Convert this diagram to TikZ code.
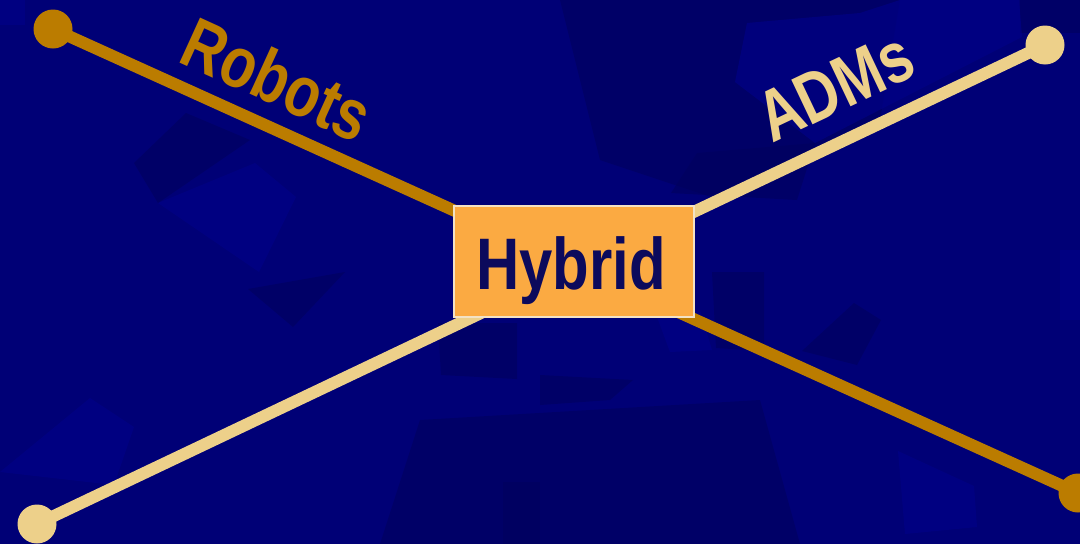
\documentclass[tikz,border=0pt]{standalone}
\usepackage{fontspec}
\setmainfont{Liberation Sans}
\newfontfamily\narrowfont[FakeStretch=0.82]{Liberation Sans}
\newfontfamily\armfont[FakeStretch=0.8]{Liberation Sans}
\definecolor{bgblue}{HTML}{000076}
\definecolor{patchdark}{HTML}{00005E}
\definecolor{patchlight}{HTML}{000086}
\definecolor{robotsgold}{HTML}{BB7C00}
\definecolor{admscream}{HTML}{EDD08A}
\definecolor{hybridfill}{HTML}{FBAA42}
\definecolor{hybridedge}{HTML}{F3E2C4}
\definecolor{hybridtext}{HTML}{0C0A5C}
\tikzset{
  darkpatch/.style={fill=patchdark, draw=none, opacity=0.6},
  lightpatch/.style={fill=patchlight, draw=none, opacity=0.7},
  arm/.style={line width=12pt, line cap=butt},
  dot/.style={circle, inner sep=0pt, minimum size=39pt, draw=none},
  armlabel/.style={font=\armfont\bfseries\fontsize{72}{80}\selectfont, inner sep=0pt, anchor=base west},
  hubbox/.style={draw=hybridedge, line width=2pt, fill=hybridfill, inner sep=0pt,
                 minimum width=240pt, minimum height=111pt},
  hubtext/.style={font=\narrowfont\bfseries\fontsize{73}{80}\selectfont, inner sep=0pt,
                  anchor=base, text=hybridtext}
}
\begin{document}
\begin{tikzpicture}[x=1pt, y=-1pt]
  \useasboundingbox (0,0) rectangle (1080,544);
  % background and faint tiles
  \fill[bgblue] (0,0) rectangle (1080,544);
  \fill[darkpatch] (560,0) -- (900,0) -- (880,120) -- (720,200) -- (600,160) -- cycle;
  \fill[darkpatch] (420,420) -- (760,400) -- (800,544) -- (380,544) -- cycle;
  \fill[lightpatch] (0,0) rectangle (25,25);
  \fill[darkpatch] (1020,0) rectangle (1080,33);
  \fill[lightpatch] (747,23) -- (860,13) -- (900,0) -- (1019,0) -- (1022,37) -- (815,143) -- (735,82) -- cycle;
  \fill[darkpatch] (671,193) -- (697,153) -- (815,143) -- (797,200) -- cycle;
  \fill[lightpatch] (158,203) -- (255,163) -- (296,197) -- (259,272) -- cycle;
  \fill[darkpatch] (134,163) -- (186,113) -- (250,140) -- (158,203) -- cycle;
  \fill[darkpatch] (248,289) -- (345,272) -- (293,327) -- cycle;
  \fill[lightpatch] (0,472) -- (90,398) -- (134,427) -- (114,485) -- cycle;
  \fill[darkpatch] (438,323) -- (517,323) -- (517,379) -- (441,375) -- cycle;
  \fill[darkpatch] (503,482) rectangle (540,544);
  \fill[darkpatch] (540,375) -- (633,380) -- (610,400) -- (540,405) -- cycle;
  \fill[lightpatch] (657,317) -- (700,310) -- (712,350) -- (670,352) -- cycle;
  \fill[darkpatch] (712,272) -- (764,272) -- (764,351) -- (716,348) -- cycle;
  \fill[darkpatch] (802,351) -- (854,303) -- (881,320) -- (857,365) -- cycle;
  \fill[lightpatch] (898,451) -- (974,486) -- (977,527) -- (905,534) -- cycle;
  \fill[lightpatch] (1060,250) rectangle (1080,320);

  % end points of the two arms
  \node[dot, fill=robotsgold] (robA) at (53,29) {};
  \node[dot, fill=robotsgold] (robB) at (1078,493) {};
  \node[dot, fill=admscream] (admA) at (1045,45) {};
  \node[dot, fill=admscream] (admB) at (37,524) {};

  % arms
  \draw[arm, robotsgold] (robA.center) -- (robB.center);
  \draw[arm, admscream] (admB.center) -- (admA.center);

  % arm labels
  \node[armlabel, text=robotsgold, rotate=-24.5] (robots) at (176,61) {Robots};
  \node[armlabel, text=admscream, rotate=25.4] (adms) at (772,144) {ADMs};

  % central box
  \node[hubbox] (hub) at (573.5,261) {};
  \node[hubtext] (hubl) at (571,289) {Hybrid};
\end{tikzpicture}
\end{document}
